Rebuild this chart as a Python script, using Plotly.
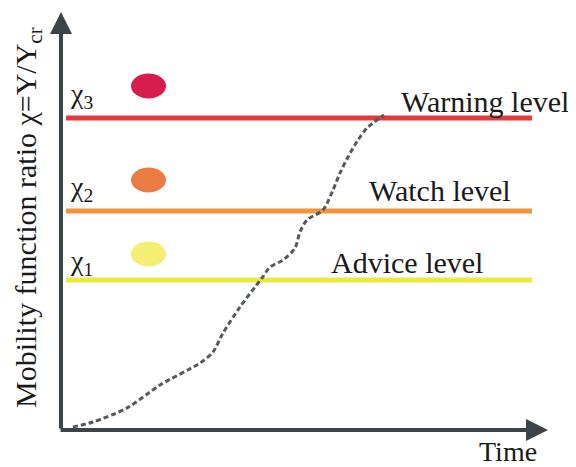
import plotly.graph_objects as go

# ---- data (units: time, chi ratio in figure-scale units) ----
level_names = ["Advice level", "Watch level", "Warning level"]
level_chi = [150, 219, 312]
level_labels = ["χ<sub>1</sub>", "χ<sub>2</sub>", "χ<sub>3</sub>"]
level_colors = ["#ece93c", "#f1943a", "#e5393a"]
dot_colors = ["#f4ee73", "#ea7b42", "#d81c4e"]
dot_chi = [176, 250, 344]
name_x = [268, 306, 338]
name_chi = [168, 240, 329]
label_chi = [168, 242, 335]

curve_t = [12, 32, 66, 99, 139, 152, 162, 179, 194, 201, 209, 222, 234, 239,
           246, 262, 272, 279, 287, 297, 306, 323]
curve_chi = [3, 8, 22, 45, 67, 78, 97, 123, 143, 152, 163, 170, 182, 198,
             210, 220, 240, 257, 273, 290, 302, 315]

line_start, line_end = 5, 471
axis_color = "#3a4449"
font = "Liberation Serif, Times New Roman, serif"

fig = go.Figure()

for chi, col in zip(level_chi, level_colors):
    fig.add_trace(go.Scatter(x=[line_start, line_end], y=[chi, chi], mode="lines",
                             line=dict(color=col, width=5), hoverinfo="skip",
                             showlegend=False))

fig.add_trace(go.Scatter(x=curve_t, y=curve_chi, mode="lines",
                         line=dict(color="#555a5e", width=3, dash="5px,3px",
                                   shape="spline", smoothing=0.8),
                         showlegend=False, hoverinfo="skip"))

for cy, col in zip(dot_chi, dot_colors):
    fig.add_shape(type="circle", xref="x", yref="y", x0=70, x1=105,
                  y0=cy - 12.5, y1=cy + 12.5, fillcolor=col, line=dict(width=0))

for nm, nx, ny in zip(level_names, name_x, name_chi):
    fig.add_annotation(x=nx, y=ny, text=nm, showarrow=False, xanchor="left",
                       yanchor="middle", font=dict(family=font, size=30, color="#1a1a1a"))

for lb, ly in zip(level_labels, label_chi):
    fig.add_annotation(x=7, y=ly, text=lb, showarrow=False, xanchor="left",
                       yanchor="middle", font=dict(family=font, size=28, color="#1a1a1a"))

# axes arrows
fig.add_annotation(x=0, y=418, ax=0, ay=0, xref="x", yref="y", axref="x", ayref="y",
                   text="", showarrow=True, arrowhead=2, arrowsize=1.1,
                   arrowwidth=4, arrowcolor=axis_color)
fig.add_annotation(x=487, y=0, ax=-2, ay=0, xref="x", yref="y", axref="x", ayref="y",
                   text="", showarrow=True, arrowhead=2, arrowsize=1.1,
                   arrowwidth=4, arrowcolor=axis_color)

fig.add_annotation(x=447, y=-21, text="Time", showarrow=False, xanchor="center",
                   yanchor="middle", borderpad=0,
                   font=dict(family=font, size=28, color="#1a1a1a"))
fig.add_annotation(x=-33, y=212, text="Mobility function ratio χ=Y/Y<sub>cr</sub>",
                   showarrow=False, textangle=-90, xanchor="center", yanchor="middle",
                   font=dict(family=font, size=30, color="#1a1a1a"))

# page has an 8px body margin: figure is 568x459 and ranges offset to match
fig.update_layout(width=568, height=459, margin=dict(l=0, r=0, t=0, b=0),
                  plot_bgcolor="white", paper_bgcolor="white",
                  xaxis=dict(range=[-53, 515], visible=False, fixedrange=True),
                  yaxis=dict(range=[-37, 422], visible=False, fixedrange=True))

fig.write_html("out.html")
